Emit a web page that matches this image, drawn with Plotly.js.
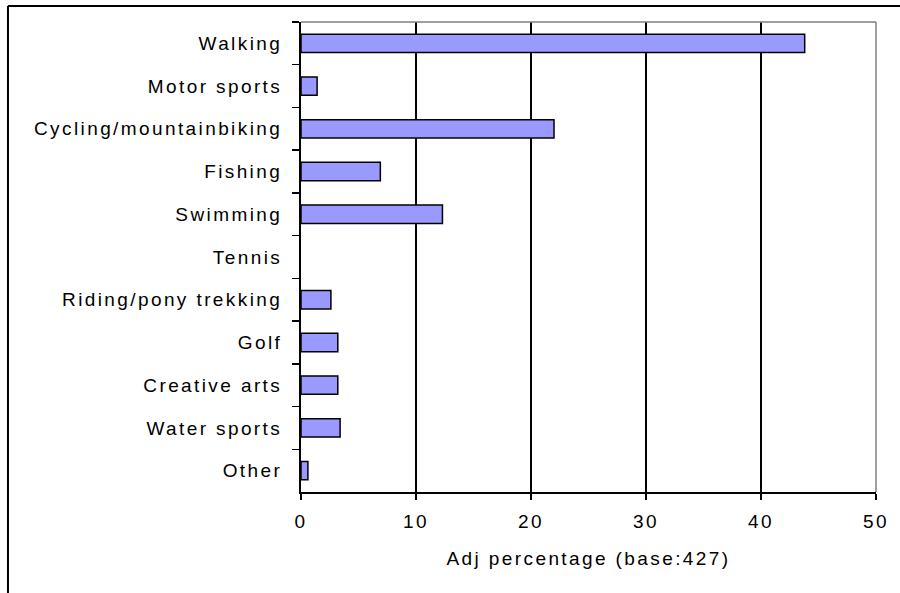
<!DOCTYPE html>
<html>
<head>
<meta charset="utf-8">
<script src="https://cdn.plot.ly/plotly-3.0.1.min.js"></script>
<style>
  html, body { margin: 0; padding: 0; background: #fff; }
  #chart { width: 900px; height: 593px; }
  #chart .xtick text, #chart .ytick text, #chart .g-xtitle text { letter-spacing: 2.4px; }
</style>
</head>
<body>
<div id="chart"></div>
<script>
const categories = ["Walking", "Motor sports", "Cycling/mountainbiking", "Fishing", "Swimming", "Tennis", "Riding/pony trekking", "Golf", "Creative arts", "Water sports", "Other"];
const values = [43.8, 1.4, 22.0, 6.9, 12.3, 0, 2.6, 3.2, 3.2, 3.4, 0.6];
const xTickValues = [0, 10, 20, 30, 40, 50];
const xTitle = "Adj percentage (base:427)";

const fontFamily = "'Liberation Sans', Arial, sans-serif";
const fontSize = 19;

const trace = {
  type: "bar",
  orientation: "h",
  x: values,
  y: categories,
  width: 0.43,
  marker: {
    color: "#9999FF",
    line: { color: "#000000", width: values.map(v => (v > 0 ? 1.5 : 0)) }
  },
  hoverinfo: "x+y"
};

const layout = {
  width: 900,
  height: 593,
  margin: { l: 301, r: 24, t: 22, b: 101 },
  paper_bgcolor: "#ffffff",
  plot_bgcolor: "#ffffff",
  showlegend: false,
  font: { family: fontFamily, size: fontSize, color: "#000000" },
  xaxis: {
    range: [0, 50],
    tickvals: xTickValues,
    ticktext: xTickValues.map(String),
    showgrid: true,
    gridcolor: "#000000",
    gridwidth: 1.5,
    zeroline: false,
    showline: true,
    linecolor: "#000000",
    linewidth: 2,
    ticks: "outside",
    ticklen: 6,
    tickwidth: 1.5,
    tickcolor: "#000000",
    ticklabelstandoff: 5,
    tickfont: { family: fontFamily, size: fontSize, color: "#000000" },
    title: { text: xTitle, font: { family: fontFamily, size: fontSize, color: "#000000" }, standoff: 21 },
    fixedrange: true
  },
  yaxis: {
    type: "category",
    categoryorder: "array",
    categoryarray: categories,
    autorange: "reversed",
    showgrid: false,
    zeroline: false,
    showline: true,
    linecolor: "#000000",
    linewidth: 2,
    ticks: "outside",
    tickson: "boundaries",
    ticklen: 7,
    tickwidth: 1.5,
    tickcolor: "#000000",
    ticklabelstandoff: 13,
    tickfont: { family: fontFamily, size: fontSize, color: "#000000" },
    fixedrange: true
  },
  shapes: [
    { type: "line", xref: "paper", yref: "paper", x0: 0, x1: 1, y0: 1, y1: 1, line: { color: "#808080", width: 1.5 }, layer: "above" },
    { type: "line", xref: "paper", yref: "paper", x0: 1, x1: 1, y0: 0, y1: 1, line: { color: "#808080", width: 1.5 }, layer: "above" },
    { type: "line", xref: "paper", yref: "paper", x0: -0.5096, x1: 2, y0: 1.0341, y1: 1.0341, line: { color: "#000000", width: 2 }, layer: "above" },
    { type: "line", xref: "paper", yref: "paper", x0: -0.5096, x1: -0.5096, y0: -0.4, y1: 1.0341, line: { color: "#000000", width: 2 }, layer: "above" }
  ]
};

Plotly.newPlot("chart", [trace], layout, { displayModeBar: false, staticPlot: true });
</script>
</body>
</html>
